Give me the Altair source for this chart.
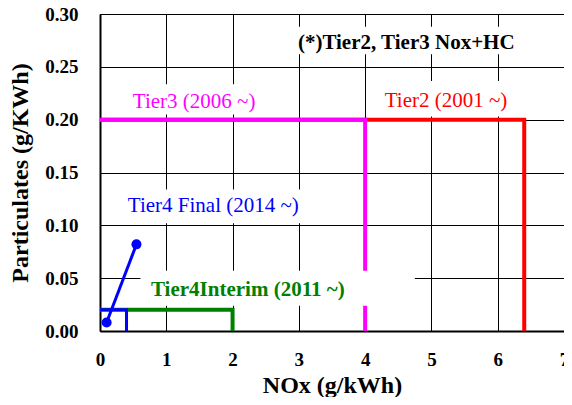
import altair as alt
import pandas as pd

# ---- data ----
tier2_x = [0.0, 6.4, 6.4]
tier2_y = [0.20, 0.20, 0.0]
tier3_x = [0.0, 4.0, 4.0]
tier3_y = [0.20, 0.20, 0.0]
t4i_x = [0.0, 2.0, 2.0]
t4i_y = [0.02, 0.02, 0.0]
t4f_x = [0.0, 0.4, 0.4]
t4f_y = [0.02, 0.02, 0.0]
t4f_pts_x = [0.1, 0.55]
t4f_pts_y = [0.008, 0.082]

label_text = ["(*)Tier2, Tier3 Nox+HC", "Tier2 (2001 ~)", "Tier3 (2006 ~)",
              "Tier4 Final (2014 ~)", "Tier4Interim (2011 ~)"]
label_x = [4.62, 5.22, 1.42, 1.71, 2.23]
label_y = [0.2726, 0.2178, 0.2168, 0.118, 0.039]
label_color = ["#000000", "#FF0000", "#FF00FF", "#0000FF", "#008000"]
label_bold = [True, False, False, False, True]
# white background boxes behind the labels
box_x1 = [2.85, 4.10, 0.22, 0.15, 0.61]
box_x2 = [6.38, 6.25, 2.58, 3.42, 4.75]
box_y1 = [0.262, 0.203, 0.205, 0.102, 0.024]
box_y2 = [0.288, 0.2365, 0.2336, 0.134, 0.057]

x_ticks = [0, 1, 2, 3, 4, 5, 6, 7]
y_ticks = [0.0, 0.05, 0.10, 0.15, 0.20, 0.25, 0.30]

FONT = "Liberation Serif"

xscale = alt.Scale(domain=[0, 7], nice=False, zero=False)
yscale = alt.Scale(domain=[0, 0.30], nice=False, zero=False)
xaxis = alt.Axis(values=x_ticks, format="d", ticks=False, labelFlush=False,
                 labelOverlap=False, labelFont=FONT, labelFontSize=19,
                 labelFontWeight="bold", labelColor="black", labelPadding=19,
                 titleFont=FONT, titleFontSize=24, titleFontWeight="bold",
                 titleColor="black", titlePadding=4,
                 grid=True, gridColor="black", gridWidth=1,
                 domainColor="black", domainWidth=2)
yaxis = alt.Axis(values=y_ticks, format=".2f", ticks=False, labelFlush=False,
                 labelOverlap=False, labelFont=FONT, labelFontSize=19,
                 labelFontWeight="bold", labelColor="black", labelPadding=22,
                 titleFont=FONT, titleFontSize=24, titleFontWeight="bold",
                 titleColor="black", titlePadding=12,
                 grid=True, gridColor="black", gridWidth=1,
                 domainColor="black", domainWidth=2)


def X(f="x"):
    return alt.X(f"{f}:Q", scale=xscale, axis=xaxis, title="NOx (g/kWh)")


def Y(f="y"):
    return alt.Y(f"{f}:Q", scale=yscale, axis=yaxis, title="Particulates (g/KWh)")


def line_layer(xs, ys, color, width):
    df = pd.DataFrame({"x": xs, "y": ys, "i": list(range(len(xs)))})
    return alt.Chart(df).mark_line(color=color, strokeWidth=width,
                                   strokeCap="butt", strokeJoin="miter").encode(
        x=X(), y=Y(), order="i:O")


layers = [
    line_layer(tier2_x, tier2_y, "#FF0000", 4),
    line_layer(tier3_x, tier3_y, "#FF00FF", 4),
    line_layer(t4i_x, t4i_y, "#008000", 4),
    line_layer(t4f_x, t4f_y, "#0000FF", 3),
    line_layer(t4f_pts_x, t4f_pts_y, "#0000FF", 3),
]
pts = pd.DataFrame({"x": t4f_pts_x, "y": t4f_pts_y})
layers.append(alt.Chart(pts).mark_point(filled=True, color="#0000FF", size=100,
                                        opacity=1).encode(x=X(), y=Y()))

boxes = pd.DataFrame({"x": box_x1, "x2": box_x2, "y": box_y1, "y2": box_y2})
layers.append(alt.Chart(boxes).mark_rect(color="white").encode(
    x=X(), x2="x2", y=Y(), y2="y2"))

for t, lx, ly, c, b in zip(label_text, label_x, label_y, label_color, label_bold):
    d = pd.DataFrame({"x": [lx], "y": [ly], "t": [t]})
    layers.append(alt.Chart(d).mark_text(
        font=FONT, fontSize=21, fontWeight="bold" if b else "normal",
        color=c, align="center", baseline="middle").encode(
        x=X(), y=Y(), text="t:N"))

chart = alt.layer(*layers).properties(
    width=464, height=317,
    autosize=alt.AutoSizeParams(type="none"),
    padding={"left": 92, "top": 6, "right": 0, "bottom": 66},
    background="white",
).configure_view(stroke="black", strokeWidth=1)

chart.save("out.html", embed_options={"renderer": "svg", "actions": False})
